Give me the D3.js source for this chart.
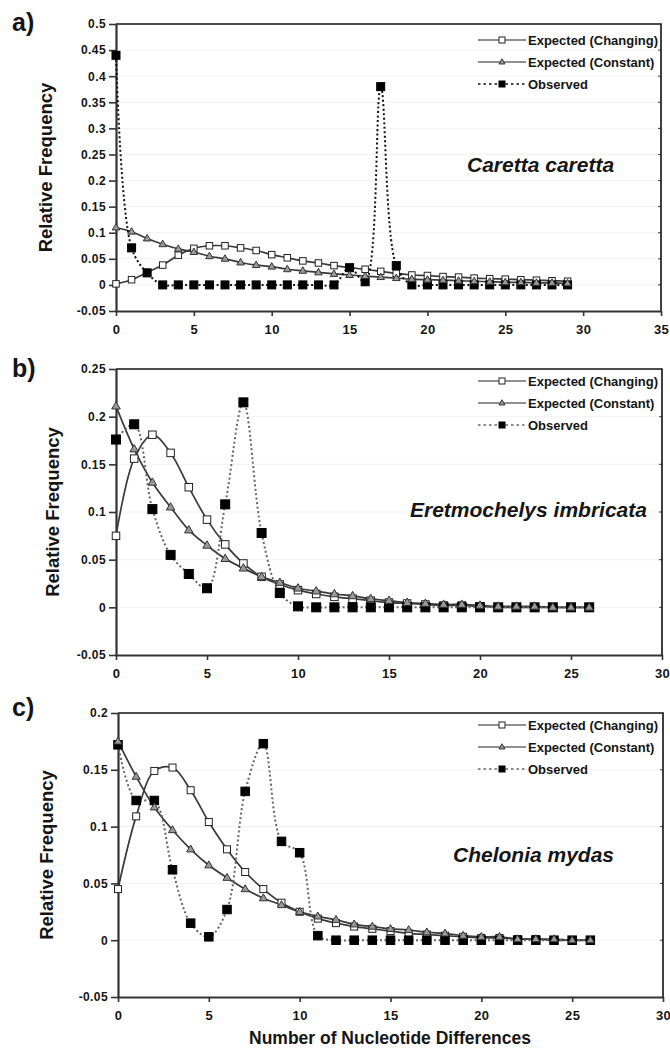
<!DOCTYPE html>
<html>
<head>
<meta charset="utf-8">
<script src="https://cdn.jsdelivr.net/npm/d3@7"></script>
<style>
  body { margin: 0; background: #fff; }
  svg text { font-family: "Liberation Sans", Arial, sans-serif; fill: #151515; }
</style>
</head>
<body>
<svg id="chart" width="670" height="1053"></svg>
<script>
/* a) Caretta caretta */
var diffsA = [0,1,2,3,4,5,6,7,8,9,10,11,12,13,14,15,16,17,18,19,20,21,22,23,24,25,26,27,28,29];
var changingA = [0.002,0.010,0.024,0.038,0.057,0.070,0.075,0.075,0.071,0.066,0.058,0.052,0.046,0.042,0.037,0.033,0.030,0.026,0.022,0.019,0.018,0.016,0.015,0.013,0.012,0.011,0.010,0.009,0.008,0.007];
var constantA = [0.110,0.102,0.089,0.078,0.069,0.063,0.055,0.050,0.043,0.038,0.035,0.030,0.027,0.024,0.021,0.019,0.017,0.015,0.013,0.011,0.010,0.009,0.008,0.007,0.006,0.005,0.005,0.004,0.004,0.003];
var observedA = [0.440,0.071,0.023,0,0,0,0,0,0,0,0,0,0,0,0,0.033,0.006,0.380,0.037,0,0,0,0,0,0,0,0,0,0,0];
var yTicksA = [-0.05,0,0.05,0.1,0.15,0.2,0.25,0.3,0.35,0.4,0.45,0.5];
var xTicksA = [0,5,10,15,20,25,30,35];

/* b) Eretmochelys imbricata */
var diffsB = [0,1,2,3,4,5,6,7,8,9,10,11,12,13,14,15,16,17,18,19,20,21,22,23,24,25,26];
var changingB = [0.075,0.156,0.181,0.162,0.126,0.092,0.066,0.046,0.032,0.024,0.018,0.014,0.011,0.009,0.007,0.005,0.004,0.003,0.002,0.002,0.001,0,0,0,0,0,0];
var constantB = [0.211,0.166,0.131,0.105,0.081,0.065,0.051,0.041,0.032,0.026,0.020,0.017,0.014,0.012,0.009,0.007,0.005,0.004,0.003,0.003,0.002,0.001,0.001,0.001,0,0,0];
var observedB = [0.176,0.192,0.103,0.055,0.035,0.020,0.108,0.215,0.078,0.015,0.001,0,0,0,0,0,0,0,0,0,0,0,0,0,0,0,0];
var yTicksB = [-0.05,0,0.05,0.1,0.15,0.2,0.25];
var xTicksB = [0,5,10,15,20,25,30];

/* c) Chelonia mydas */
var diffsC = [0,1,2,3,4,5,6,7,8,9,10,11,12,13,14,15,16,17,18,19,20,21,22,23,24,25,26];
var changingC = [0.045,0.109,0.149,0.152,0.132,0.104,0.080,0.060,0.045,0.033,0.025,0.019,0.015,0.012,0.010,0.008,0.006,0.005,0.004,0.003,0.002,0.002,0.001,0.001,0,0,0];
var constantC = [0.175,0.144,0.117,0.097,0.080,0.066,0.055,0.045,0.037,0.031,0.025,0.021,0.018,0.014,0.012,0.010,0.009,0.007,0.006,0.004,0.003,0.003,0.001,0.001,0.001,0,0];
var observedC = [0.172,0.123,0.123,0.062,0.015,0.003,0.027,0.131,0.173,0.087,0.077,0.004,0,0,0,0,0,0,0,0,0,0,0,0,0,0,0];
var yTicksC = [-0.05,0,0.05,0.1,0.15,0.2];
var xTicksC = [0,5,10,15,20,25,30];

var legendLabels = ['Expected (Changing)', 'Expected (Constant)', 'Observed'];

var svg = d3.select('#chart');

var panels = [
  { tag: 'a)', species: 'Caretta caretta', diffs: diffsA, changing: changingA, constant: constantA, observed: observedA,
    yTicks: yTicksA, xTicks: xTicksA, left: 116, right: 661, top: 24, bottom: 311,
    tagY: 31, titleX: 52, legendY: [40, 62, 84], speciesX: 467, speciesY: 172,
    obsColor: '#111', sq: 8, open: 6.5, tri: 7.5 },
  { tag: 'b)', species: 'Eretmochelys imbricata', diffs: diffsB, changing: changingB, constant: constantB, observed: observedB,
    yTicks: yTicksB, xTicks: xTicksB, left: 116, right: 662, top: 369, bottom: 655,
    tagY: 377, titleX: 59, legendY: [381, 403, 425], speciesX: 410, speciesY: 517,
    obsColor: '#666', sq: 9, open: 7.5, tri: 8.5 },
  { tag: 'c)', species: 'Chelonia mydas', diffs: diffsC, changing: changingC, constant: constantC, observed: observedC,
    yTicks: yTicksC, xTicks: xTicksC, left: 118, right: 663, top: 713, bottom: 997,
    tagY: 716, titleX: 53, legendY: [725, 747, 769], speciesX: 453, speciesY: 862,
    obsColor: '#666', sq: 8.5, open: 7, tri: 8 }
];

function fmt(d) { return String(Math.round(d * 100) / 100); }

function drawSquare(sel, size, fill, stroke) {
  sel.append('rect')
    .attr('x', -size / 2).attr('y', -size / 2)
    .attr('width', size).attr('height', size)
    .attr('fill', fill).attr('stroke', stroke).attr('stroke-width', 1);
}

function drawTriangle(sel, size) {
  var h = size * 0.866;
  sel.append('path')
    .attr('d', 'M0,' + (-h * 0.62) + 'L' + (size / 2) + ',' + (h * 0.38) + 'L' + (-size / 2) + ',' + (h * 0.38) + 'Z')
    .attr('fill', '#9a9a9a').attr('stroke', '#333').attr('stroke-width', 1);
}

function drawPanel(p) {
  var g = svg.append('g');
  var x = d3.scaleLinear().domain([p.xTicks[0], p.xTicks[p.xTicks.length - 1]]).range([p.left, p.right]);
  var y = d3.scaleLinear().domain([p.yTicks[0], p.yTicks[p.yTicks.length - 1]]).range([p.bottom, p.top]);

  // faint gridlines + little stubs on the right border
  g.selectAll('.grid').data(p.yTicks.slice(1, -1)).enter().append('line')
    .attr('x1', p.left).attr('x2', p.right)
    .attr('y1', function(d){ return y(d); }).attr('y2', function(d){ return y(d); })
    .attr('stroke', '#f2f2f2').attr('stroke-width', 1);
  g.selectAll('.stub').data(p.yTicks.slice(1, -1)).enter().append('line')
    .attr('x1', p.right - 3).attr('x2', p.right)
    .attr('y1', function(d){ return y(d); }).attr('y2', function(d){ return y(d); })
    .attr('stroke', '#444').attr('stroke-width', 1);

  // plot border (top and right)
  g.append('path')
    .attr('d', 'M' + p.left + ',' + p.top + 'H' + p.right + 'V' + p.bottom)
    .attr('fill', 'none').attr('stroke', '#111').attr('stroke-width', 1.6);

  var yAxis = d3.axisLeft(y).tickValues(p.yTicks).tickFormat(fmt).tickSize(7).tickSizeOuter(0).tickPadding(3);
  var xAxis = d3.axisBottom(x).tickValues(p.xTicks).tickSize(5).tickSizeOuter(0).tickPadding(9);

  var ga = g.append('g').attr('transform', 'translate(0,' + p.bottom + ')').call(xAxis);
  var gy = g.append('g').attr('transform', 'translate(' + p.left + ',0)').call(yAxis);
  [ga, gy].forEach(function(a){
    a.select('.domain').attr('stroke', '#333').attr('stroke-width', 2.2);
    a.selectAll('.tick line').attr('stroke', '#333').attr('stroke-width', 1.6);
    a.selectAll('.tick text').attr('font-weight', 'bold').attr('fill', '#1a1a1a')
      .style('font-family', '"Liberation Sans", Arial, sans-serif');
  });
  gy.selectAll('.tick text').attr('font-size', 12).attr('letter-spacing', 0.4);
  ga.selectAll('.tick text').attr('font-size', 13).attr('letter-spacing', 0.4);

  var line = d3.line()
    .x(function(d, i){ return x(p.diffs[i]); })
    .y(function(d){ return y(d); })
    .curve(d3.curveCatmullRom.alpha(0.5));

  g.append('path').datum(p.changing).attr('d', line)
    .attr('fill', 'none').attr('stroke', '#3a3a3a').attr('stroke-width', 1.7);
  g.append('path').datum(p.constant).attr('d', line)
    .attr('fill', 'none').attr('stroke', '#3a3a3a').attr('stroke-width', 1.7);
  g.append('path').datum(p.observed).attr('d', line)
    .attr('fill', 'none').attr('stroke', p.obsColor).attr('stroke-width', 2)
    .attr('stroke-dasharray', '2,2.5');

  g.selectAll('.chg').data(p.changing).enter().append('g')
    .attr('transform', function(d, i){ return 'translate(' + x(p.diffs[i]) + ',' + y(d) + ')'; })
    .each(function(){ drawSquare(d3.select(this), p.open, '#fff', '#222'); });
  g.selectAll('.obs').data(p.observed).enter().append('g')
    .attr('transform', function(d, i){ return 'translate(' + x(p.diffs[i]) + ',' + y(d) + ')'; })
    .each(function(){ drawSquare(d3.select(this), p.sq, '#000', '#000'); });
  g.selectAll('.con').data(p.constant).enter().append('g')
    .attr('transform', function(d, i){ return 'translate(' + x(p.diffs[i]) + ',' + y(d) + ')'; })
    .each(function(){ drawTriangle(d3.select(this), p.tri); });

  // legend
  var lg = g.append('g');
  legendLabels.forEach(function(lab, i){
    var ly = p.legendY[i];
    var row = lg.append('g').attr('transform', 'translate(0,' + ly + ')');
    row.append('line').attr('x1', 478).attr('x2', 526).attr('y1', 0).attr('y2', 0)
      .attr('stroke', i === 2 ? p.obsColor : '#222').attr('stroke-width', i === 2 ? 1.6 : 1.2)
      .attr('stroke-dasharray', i === 2 ? '2.5,3' : null);
    var m = row.append('g').attr('transform', 'translate(502,0)');
    if (i === 0) drawSquare(m, 6, '#fff', '#222');
    if (i === 1) drawTriangle(m, 6);
    if (i === 2) drawSquare(m, 6, '#000', '#000');
    row.append('text').attr('x', 528).attr('y', 4.5)
      .attr('font-size', 13).attr('font-weight', 'bold').text(lab);
  });

  // species name
  g.append('text').attr('x', p.speciesX).attr('y', p.speciesY)
    .attr('font-size', 21).attr('font-weight', 'bold').attr('font-style', 'italic')
    .text(p.species);

  // panel tag
  g.append('text').attr('x', 12).attr('y', p.tagY)
    .attr('font-size', 25).attr('font-weight', 'bold').text(p.tag);

  // y title
  g.append('text')
    .attr('transform', 'translate(' + p.titleX + ',' + ((p.top + p.bottom) / 2) + ') rotate(-90)')
    .attr('text-anchor', 'middle').attr('font-size', 18.5).attr('font-weight', 'bold')
    .text('Relative Frequency');
}

panels.forEach(drawPanel);

svg.append('text').attr('x', 390).attr('y', 1044).attr('text-anchor', 'middle')
  .attr('font-size', 17.5).attr('font-weight', 'bold')
  .text('Number of Nucleotide Differences');
</script>
</body>
</html>
